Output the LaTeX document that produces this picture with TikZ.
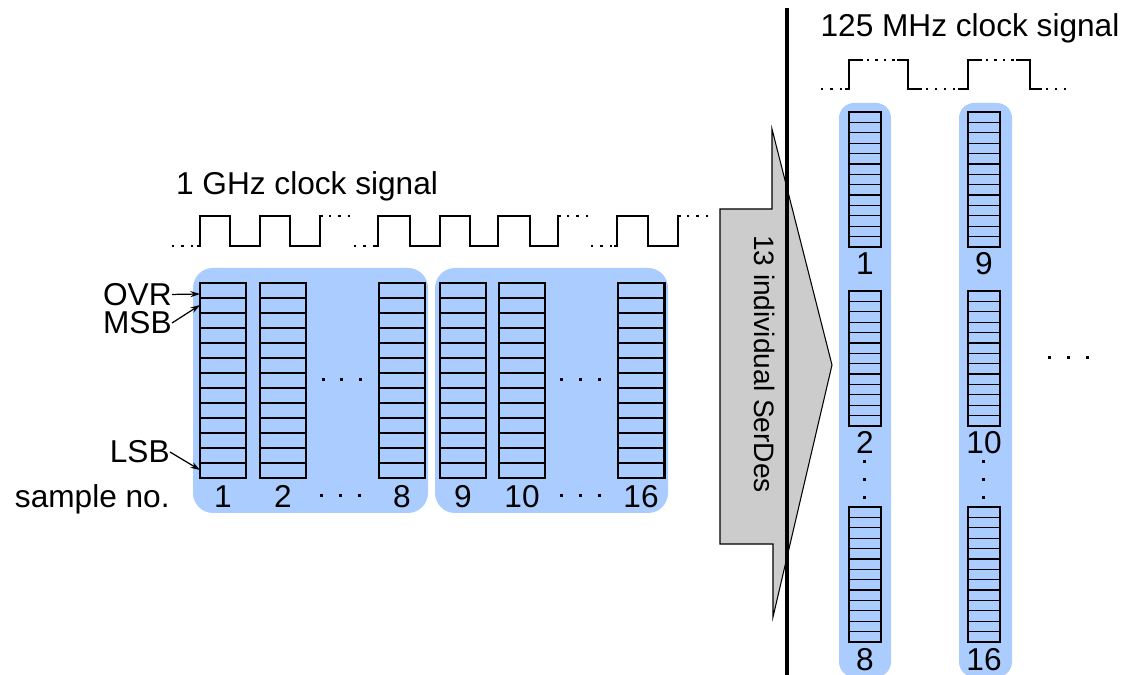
\documentclass[tikz,border=0pt]{standalone}
\usepackage{fontspec}
\setmainfont{Liberation Sans}
\usetikzlibrary{arrows.meta}

\definecolor{regblue}{RGB}{170,204,255}
\definecolor{serdesgray}{RGB}{204,204,204}

\tikzset{
  txt/.style={inner sep=0pt, font=\fontsize{18}{20}\selectfont},
  wave/.style={line width=1.5pt},
  bitarrow/.style={line width=0.7pt, -{Stealth[length=5.5pt,width=3.5pt]}},
}

% one register column: x, y (top), width, height, frame width
\newcommand{\regcol}[5]{%
  \fill[regblue] (#1,#2) rectangle ++(#3,#4);
  \foreach \k in {1,...,12}
    {\draw[line width=0.7pt] (#1,{#2+\k*#4/13}) -- ++(#3,0);}
  \draw[line width=#5] (#1,#2) rectangle ++(#3,#4);
}

% a row of square dots: x0, y, count, step, size
\newcommand{\sqdots}[5]{%
  \foreach \i in {1,...,#3}
    {\fill ({#1+(\i-1)*#4-#5/2},{#2-#5/2}) rectangle ++(#5,#5);}
}

\begin{document}
\begin{tikzpicture}[x=0.02cm, y=-0.02cm]
    \useasboundingbox (0,0) rectangle (1133,675);

    % the two groups of samples
    \fill[regblue, rounded corners=0.4cm] (193,268) rectangle (428,513);
    \fill[regblue, rounded corners=0.4cm] (435,268) rectangle (668,513);

    % the registers of the 1 GHz side
    \foreach \x in {200,260,379,440,499,618}
      {\regcol{\x}{283}{46}{195}{1.7pt}}

    % sample numbers
    \node[txt, anchor=base] (s1) at (223,507) {1};
    \node[txt, anchor=base] (s2) at (283,507) {2};
    \node[txt, anchor=base] (s8) at (402,507) {8};
    \node[txt, anchor=base] (s9) at (463,507) {9};
    \node[txt, anchor=base] (s10) at (522,507) {10};
    \node[txt, anchor=base] (s16) at (641,507) {16};
    \sqdots{323}{380}{3}{18.5}{3}
    \sqdots{321}{496}{3}{19}{3}
    \sqdots{561}{380}{3}{19}{3}
    \sqdots{561}{496}{3}{19}{3}

    % the bit names
    \node[txt, anchor=east] (ovr) at (172,295) {OVR};
    \node[txt, anchor=east] (msb) at (172,323) {MSB};
    \node[txt, anchor=east] (lsb) at (170,452) {LSB};
    \node[txt, anchor=base east] (sampleno) at (170,507) {sample no.};
    \coordinate (ovrbit) at (200,294);
    \coordinate (msbbit) at (200,305);
    \coordinate (lsbbit) at (200,470);
    \draw[bitarrow] (ovr) -- (ovrbit);
    \draw[bitarrow] (msb.east) -- (msbbit);
    \draw[bitarrow] (lsb.east) -- (lsbbit);

    % 1 GHz clock
    \node[txt, anchor=base] (fastclk) at (307,195) {1 GHz clock signal};
    \sqdots{173}{246}{3}{9.5}{2.4}
    \draw[wave] (197,246) -- (200,246) -- (200,216) -- (230,216) -- (230,246)
      -- (260,246) -- (260,216) -- (290,216) -- (290,246) -- (320,246)
      -- (320,216) -- (323,216);
    \sqdots{330}{216}{3}{9.5}{2.4}
    \sqdots{355}{246}{3}{9.5}{2.4}
    \draw[wave] (375,246) -- (378,246) -- (378,216) -- (410,216) -- (410,246)
      -- (440,246) -- (440,216) -- (470,216) -- (470,246) -- (498,246)
      -- (498,216) -- (530,216) -- (530,246) -- (558,246) -- (558,216)
      -- (561,216);
    \sqdots{568}{216}{3}{9.5}{2.4}
    \sqdots{592}{246}{3}{9.5}{2.4}
    \draw[wave] (614,246) -- (617,246) -- (617,216) -- (648,216) -- (648,246)
      -- (678,246) -- (678,216) -- (681,216);
    \sqdots{688}{216}{3}{9.5}{2.4}

    % the SerDes arrow
    \filldraw[fill=serdesgray, line width=0.6pt] (720,209) -- (772,209) -- (772,129)
      -- (832,365) -- (773,617) -- (773,544) -- (720,544) -- cycle;
    \node[inner sep=0pt, font=\fontsize{16}{18}\selectfont, rotate=-90] (serdes)
      at (765,364) {13 individual SerDes};

    % clock domain border
    \draw[line width=1.9pt] (787,8) -- (787,680);

    % 125 MHz side
    \fill[regblue, rounded corners=0.3cm] (839,103) rectangle (891,677);
    \fill[regblue, rounded corners=0.3cm] (959,103) rectangle (1012,677);
    \foreach \x in {849,968}
      {\foreach \y in {112,291,507}
        {\regcol{\x}{\y}{32}{135}{1.3pt}}}

    \node[txt, anchor=base] (w1) at (865,275) {1};
    \node[txt, anchor=base] (w9) at (984,275) {9};
    \node[txt, anchor=base] (w2) at (865,454) {2};
    \node[txt, anchor=base] (w10) at (984,454) {10};
    \node[txt, anchor=base] (w8) at (865,670) {8};
    \node[txt, anchor=base] (w16) at (984,670) {16};
    \foreach \y in {462,480,498} {
      \sqdots{864}{\y}{1}{1}{3}
      \sqdots{983}{\y}{1}{1}{3}
    }
    \sqdots{1049}{358}{3}{19}{3}

    % 125 MHz clock
    \node[txt, anchor=base] (slowclk) at (970,37) {125 MHz clock signal};
    \sqdots{822}{89}{3}{9.5}{2.4}
    \draw[wave] (845,89) -- (849,89) -- (849,60) -- (863,60);
    \sqdots{868}{60}{4}{8.5}{2.4}
    \draw[wave] (897,60) -- (908,60) -- (908,89) -- (922,89);
    \sqdots{927}{89}{4}{9}{2.4}
    \draw[wave] (958,89) -- (968,89) -- (968,60) -- (982,60);
    \sqdots{987}{60}{4}{8.5}{2.4}
    \draw[wave] (1016,60) -- (1030,60) -- (1030,89) -- (1042,89);
    \sqdots{1047}{89}{3}{9}{2.4}
\end{tikzpicture}
\end{document}
